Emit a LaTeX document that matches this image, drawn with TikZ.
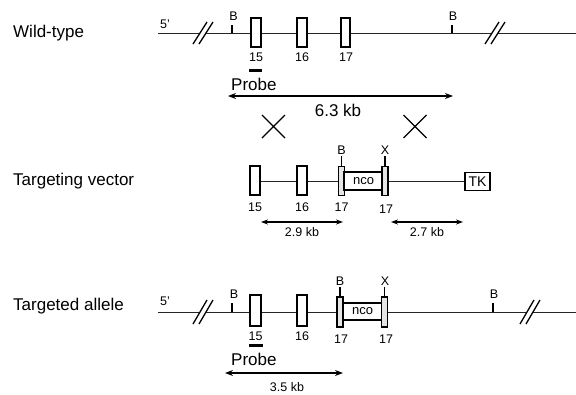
\documentclass[tikz,border=0pt]{standalone}
\usepackage{fontspec}
\setmainfont{Liberation Sans}
\usetikzlibrary{arrows.meta,backgrounds}
\tikzset{
  dna/.style={draw=black!85, line width=1.5pt},
  exon/.style={draw=black, fill=white, line width=1.5pt, inner sep=0pt, minimum width=10pt, minimum height=29pt},
  narrowex/.style={draw=black, fill=black!10, line width=1.3pt, inner sep=0pt, minimum width=6pt, minimum height=29pt},
  ncobox/.style={draw=black, fill=white, line width=1.2pt, inner sep=0pt, minimum width=39pt, minimum height=18pt, font=\fontsize{13}{15}\selectfont},
  tkbox/.style={draw=black, fill=white, line width=1.1pt, inner sep=0pt, minimum width=25pt, minimum height=18pt, font=\fontsize{14}{16}\selectfont},
  small/.style={inner sep=0pt, font=\fontsize{12.5}{14}\selectfont},
  big/.style={inner sep=0pt, font=\fontsize{17}{20}\selectfont},
  tick/.style={draw=black, line width=1.2pt},
  dimthick/.style={draw=black, line width=1.8pt, {Stealth[length=8pt,width=6pt]}-{Stealth[length=8pt,width=6pt]}},
  dimthin/.style={draw=black, line width=1.1pt, {Stealth[length=7pt,width=5pt]}-{Stealth[length=7pt,width=5pt]}},
  slash/.style={draw=black, line width=1.3pt},
  cross/.style={draw=black, line width=1.3pt},
  probebar/.style={draw=black, line width=3pt}
}
\begin{document}
\begin{tikzpicture}[x=1pt,y=-1pt]
\useasboundingbox (0,0) rectangle (576,394);

% ---------------- Row labels
\node[big, anchor=west] (lwt) at (13,33) {Wild-type};
\node[big, anchor=west] (ltv) at (13,181) {Targeting vector};
\node[big, anchor=west] (lta) at (13,306) {Targeted allele};

% ================= Wild-type
\coordinate (w0) at (158,33.5);
\coordinate (w1) at (576,33.5);
\begin{scope}[on background layer]
  \draw[dna] (w0) -- (w1);
\end{scope}
\node[small] (w5) at (165,24) {5'};
% breaks
\fill[white] (193,44) -- (207,22) -- (213,22) -- (199,44) -- cycle;
\draw[slash] (193,44) -- (207,22) (199,44) -- (213,22);
\fill[white] (485,44) -- (499,22) -- (505,22) -- (491,44) -- cycle;
\draw[slash] (485,44) -- (499,22) (491,44) -- (505,22);
% B sites
\coordinate (wb1a) at (232,33); \coordinate (wb1b) at (232,25);
\draw[tick] (wb1a) -- (wb1b);
\node[small] (wb1) at (233.5,16) {B};
\coordinate (wb2a) at (452,33); \coordinate (wb2b) at (452,25);
\draw[tick] (wb2a) -- (wb2b);
\node[small] (wb2) at (453,16) {B};
% exons
\node[exon] (we15) at (256,32.5) {};
\node[exon] (we16) at (302,32.5) {};
\node[exon, minimum width=9pt] (we17) at (345.5,32.5) {};
\node[small] (wl15) at (256,57) {15};
\node[small] (wl16) at (302,57) {16};
\node[small] (wl17) at (346,57) {17};
% probe
\coordinate (wp0) at (249,70); \coordinate (wp1) at (262,70);
\draw[probebar] (wp0) -- (wp1);
\node[big, anchor=west] (wprobe) at (231,84) {Probe};
% 6.3 kb
\coordinate (wa0) at (228,96); \coordinate (wa1) at (453,96);
\draw[dimthick] (wa0) -- (wa1);
\node[big] (w63) at (338,110) {6.3 kb};

% crossovers
\draw[cross] (262,115) -- (285,138) (262,138) -- (285,115);
\draw[cross] (403.5,115) -- (426.5,138) (403.5,138) -- (426.5,115);

% ================= Targeting vector
\node[exon] (ve15) at (255,180.5) {};
\node[exon] (ve16) at (302,180.5) {};
\node[narrowex] (ve17a) at (341.5,181) {};
\node[ncobox] (vnco) at (363.5,181) {nco};
\node[narrowex] (ve17b) at (385,181) {};
\node[tkbox] (vtk) at (477.5,181.5) {TK};
\begin{scope}[on background layer]
  \draw[dna] (ve15.center |- vtk.west) -- (vtk.west);
\end{scope}
\draw[tick] (ve17a.north) -- ++(0,-10) coordinate (vbt);
\node[small] (vb) at (341.5,150) {B};
\draw[tick] (ve17b.north) -- ++(0,-10) coordinate (vxt);
\node[small] (vx) at (385,150) {X};
\node[small] (vl15) at (255,207) {15};
\node[small] (vl16) at (302,207) {16};
\node[small] (vl17a) at (341.5,207) {17};
\node[small] (vl17b) at (386,209) {17};
\coordinate (va0) at (261,222); \coordinate (va1) at (343,222);
\draw[dimthin] (va0) -- (va1);
\node[small] (v29) at (302,232) {2.9 kb};
\coordinate (vc0) at (391,222); \coordinate (vc1) at (463,222);
\draw[dimthin] (vc0) -- (vc1);
\node[small] (v27) at (427,232) {2.7 kb};

% ================= Targeted allele
\coordinate (t0) at (158,312.5);
\coordinate (t1) at (576,312.5);
\begin{scope}[on background layer]
  \draw[dna] (t0) -- (t1);
\end{scope}
\node[small] (t5) at (165,301) {5'};
\fill[white] (193,324) -- (207,300) -- (213,300) -- (199,324) -- cycle;
\draw[slash] (193,324) -- (207,300) (199,324) -- (213,300);
\fill[white] (520,324) -- (534,300) -- (540,300) -- (526,324) -- cycle;
\draw[slash] (520,324) -- (534,300) (526,324) -- (540,300);
\coordinate (tb1a) at (232,312); \coordinate (tb1b) at (232,303);
\draw[tick] (tb1a) -- (tb1b);
\node[small] (tb1) at (234,294) {B};
\coordinate (tb2a) at (493,312); \coordinate (tb2b) at (493,303);
\draw[tick] (tb2a) -- (tb2b);
\node[small] (tb2) at (494,294) {B};
\node[exon, minimum width=11pt, minimum height=31pt] (te15) at (255.5,310.5) {};
\node[exon, minimum height=31pt] (te16) at (302,310.5) {};
\node[narrowex, minimum height=30pt] (te17a) at (340,312) {};
\node[ncobox, minimum width=39pt, minimum height=17pt] (tnco) at (362.5,311.5) {nco};
\node[narrowex, minimum height=30pt] (te17b) at (384.5,312) {};
\draw[tick] (te17a.north) -- ++(0,-9) coordinate (tbt);
\node[small] (tb) at (340,281) {B};
\draw[tick] (te17b.north) -- ++(0,-9) coordinate (txt);
\node[small] (tx) at (385,281) {X};
\node[small] (tl15) at (255.5,336) {15};
\node[small] (tl16) at (302,336) {16};
\node[small] (tl17a) at (341,339) {17};
\node[small] (tl17b) at (386,339) {17};
\coordinate (tp0) at (249,345.5); \coordinate (tp1) at (263,345.5);
\draw[probebar] (tp0) -- (tp1);
\node[big, anchor=west] (tprobe) at (231,359) {Probe};
\coordinate (ta0) at (225,373); \coordinate (ta1) at (343,373);
\draw[dimthick] (ta0) -- (ta1);
\node[small] (t35) at (287,387) {3.5 kb};
\end{tikzpicture}
\end{document}
